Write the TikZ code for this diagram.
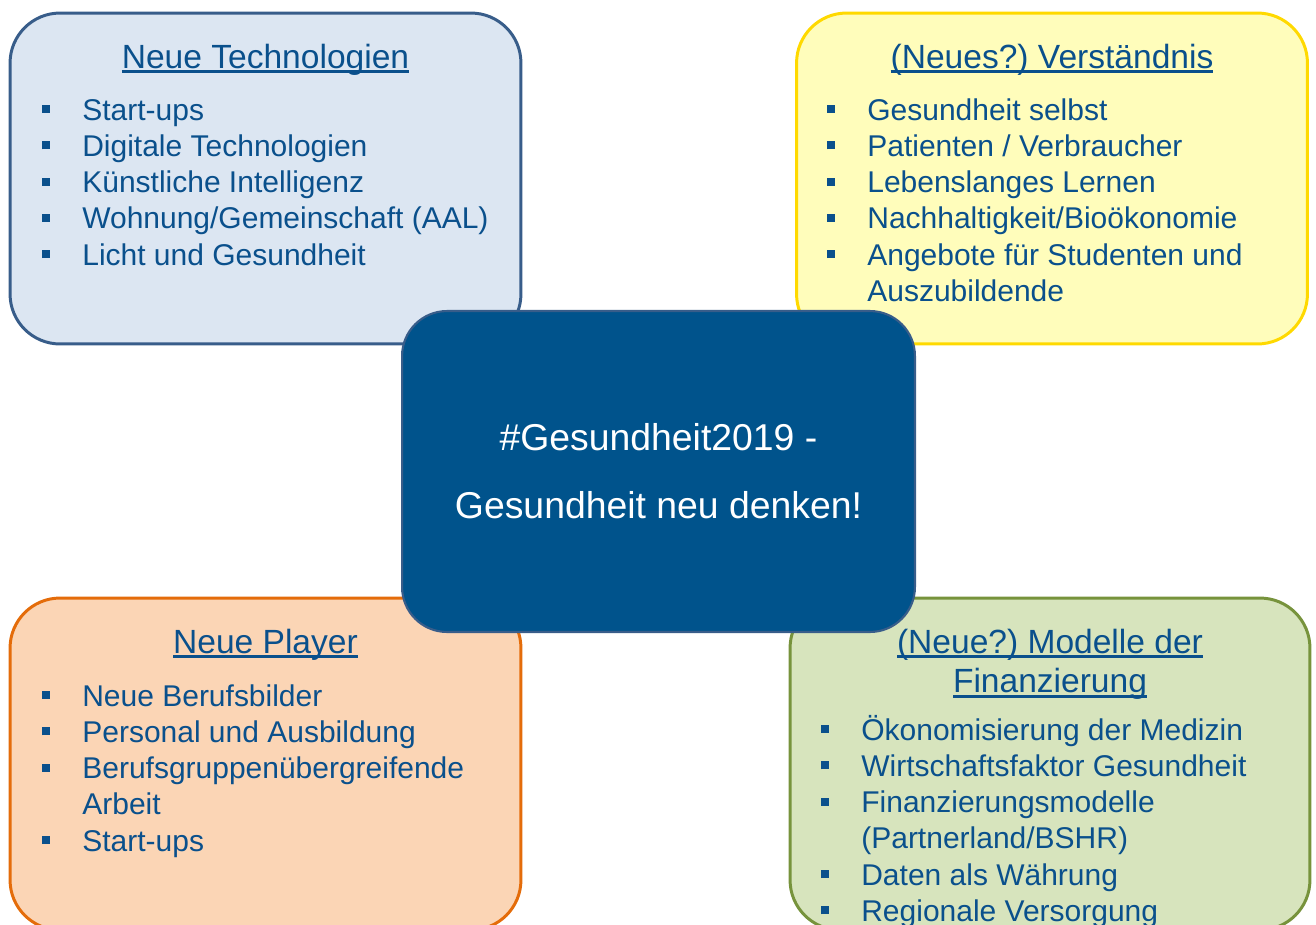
\documentclass[tikz,border=0pt]{standalone}
\usepackage{fontspec}
\setmainfont{Liberation Sans}
\usepackage{xcolor}
\definecolor{techfill}{RGB}{220,230,242}
\definecolor{techline}{RGB}{56,93,138}
\definecolor{verfill}{RGB}{255,253,187}
\definecolor{verline}{RGB}{255,217,0}
\definecolor{playfill}{RGB}{251,213,181}
\definecolor{playline}{RGB}{228,108,10}
\definecolor{finfill}{RGB}{215,228,189}
\definecolor{finline}{RGB}{119,147,60}
\definecolor{hubfill}{RGB}{0,83,140}
\definecolor{txtblue}{RGB}{10,80,140}
\newcommand{\sq}{\makebox[22.76pt][l]{\rule[4pt]{4.55pt}{4.55pt}}}
\newcommand{\nx}{\hspace*{22.76pt}}
\newcommand{\ul}[1]{\setbox0\hbox{#1}\rlap{\rule[-2.6pt]{\wd0}{1.2pt}}\box0}
\frenchspacing

\begin{document}
\begin{tikzpicture}[x=0.02cm, y=-0.02cm,
    panel/.style={draw, line width=1.7pt, rounded corners=1cm,
        minimum width=10.22cm, minimum height=6.62cm},
    cardtitle/.style={text=txtblue, font=\fontsize{19.1}{22.76}\selectfont,
        anchor=base, inner sep=0pt},
    items/.style={text=txtblue, font=\fontsize{17.07}{20.66}\selectfont,
        anchor=base west, inner sep=0pt}]
    \useasboundingbox (0,0) rectangle (1316,924);
    \clip (0,0) rectangle (1316,924);
    % four panels
    \node[panel, draw=techline, fill=techfill] (tech) at (265.5,178.5) {};
    \node[panel, draw=verline, fill=verfill] (ver) at (1052,178.5) {};
    \node[panel, draw=playline, fill=playfill, minimum height=6.64cm] (play) at (265.5,764) {};
    \node[panel, draw=finline, fill=finfill, minimum width=10.4cm, minimum height=6.64cm] (fin) at (1050,764) {};
    % centre
    \node[draw=techline, line width=1.2pt, fill=hubfill, rounded corners=0.9cm,
        minimum width=10.26cm, minimum height=6.42cm, text=white, align=center,
        font=\fontsize{21.26}{38.7}\selectfont] (hub) at (658.5,471.5)
        {\#Gesundheit2019 -\\Gesundheit neu denken!};
    % titles
    \node[cardtitle] (techT) at (265.5,68) {\ul{Neue Technologien}};
    \node[cardtitle] (verT) at (1052,68) {\ul{(Neues?) Verständnis}};
    \node[cardtitle] (playT) at (265.5,653) {\ul{Neue Player}};
    \node[cardtitle] (finT) at (1050,653) {\begin{tabular}[t]{@{}c@{}}
        \ul{(Neue?) Modelle der}\\ \ul{Finanzierung}\end{tabular}};
    % lists
    \node[items] (techL) at (42,120) {\begin{tabular}[t]{@{}l@{}}
        \sq Start-ups\\
        \sq Digitale Technologien\\
        \sq Künstliche Intelligenz\\
        \sq Wohnung/Gemeinschaft (AAL)\\
        \sq Licht und Gesundheit\end{tabular}};
    \node[items] (verL) at (827,120) {\begin{tabular}[t]{@{}l@{}}
        \sq Gesundheit selbst\\
        \sq Patienten / Verbraucher\\
        \sq Lebenslanges Lernen\\
        \sq Nachhaltigkeit/Bioökonomie\\
        \sq Angebote für Studenten und\\
        \nx Auszubildende\end{tabular}};
    \node[items] (playL) at (42,706) {\begin{tabular}[t]{@{}l@{}}
        \sq Neue Berufsbilder\\
        \sq Personal und Ausbildung\\
        \sq Berufsgruppenübergreifende\\
        \nx Arbeit\\
        \sq Start-ups\end{tabular}};
    \node[items] (finL) at (821,740) {\begin{tabular}[t]{@{}l@{}}
        \sq Ökonomisierung der Medizin\\
        \sq Wirtschaftsfaktor Gesundheit\\
        \sq Finanzierungsmodelle\\
        \nx (Partnerland/BSHR)\\
        \sq Daten als Währung\\
        \sq Regionale Versorgung\end{tabular}};
\end{tikzpicture}
\end{document}
